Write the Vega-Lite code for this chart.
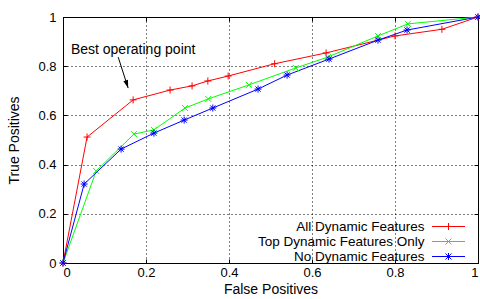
{
  "$schema": "https://vega.github.io/schema/vega-lite/v6.json",
  "width": 415,
  "height": 246,
  "autosize": {"type": "none"},
  "padding": {"left": 63, "top": 17, "right": 2, "bottom": 36},
  "config": {
    "font": "Liberation Sans",
    "view": {"stroke": "black", "strokeWidth": 1},
    "axis": {
      "labelFontSize": 13, "labelColor": "black", "titleFontSize": 14, "titleFontWeight": "normal", "titleColor": "black",
      "domainColor": "black", "domainWidth": 1,
      "tickColor": "black", "tickSize": -4,
      "gridColor": "black", "gridDash": [1, 3], "gridOpacity": 1, "gridWidth": 1
    }
  },
  "datasets": {
    "roc": [
      {"series": "All Dynamic Features", "fpr": 0, "tpr": 0},
      {"series": "All Dynamic Features", "fpr": 0.058, "tpr": 0.512},
      {"series": "All Dynamic Features", "fpr": 0.169, "tpr": 0.663},
      {"series": "All Dynamic Features", "fpr": 0.258, "tpr": 0.703},
      {"series": "All Dynamic Features", "fpr": 0.311, "tpr": 0.72},
      {"series": "All Dynamic Features", "fpr": 0.349, "tpr": 0.74},
      {"series": "All Dynamic Features", "fpr": 0.398, "tpr": 0.76},
      {"series": "All Dynamic Features", "fpr": 0.51, "tpr": 0.81},
      {"series": "All Dynamic Features", "fpr": 0.634, "tpr": 0.854},
      {"series": "All Dynamic Features", "fpr": 0.8, "tpr": 0.923},
      {"series": "All Dynamic Features", "fpr": 0.913, "tpr": 0.95},
      {"series": "All Dynamic Features", "fpr": 1, "tpr": 1},
      {"series": "Top Dynamic Features Only", "fpr": 0, "tpr": 0},
      {"series": "Top Dynamic Features Only", "fpr": 0.08, "tpr": 0.374},
      {"series": "Top Dynamic Features Only", "fpr": 0.171, "tpr": 0.524},
      {"series": "Top Dynamic Features Only", "fpr": 0.219, "tpr": 0.541},
      {"series": "Top Dynamic Features Only", "fpr": 0.294, "tpr": 0.63},
      {"series": "Top Dynamic Features Only", "fpr": 0.35, "tpr": 0.667},
      {"series": "Top Dynamic Features Only", "fpr": 0.448, "tpr": 0.724},
      {"series": "Top Dynamic Features Only", "fpr": 0.561, "tpr": 0.793},
      {"series": "Top Dynamic Features Only", "fpr": 0.638, "tpr": 0.837},
      {"series": "Top Dynamic Features Only", "fpr": 0.759, "tpr": 0.923},
      {"series": "Top Dynamic Features Only", "fpr": 0.831, "tpr": 0.972},
      {"series": "Top Dynamic Features Only", "fpr": 1, "tpr": 1},
      {"series": "No Dynamic Features", "fpr": 0, "tpr": 0},
      {"series": "No Dynamic Features", "fpr": 0.051, "tpr": 0.321},
      {"series": "No Dynamic Features", "fpr": 0.14, "tpr": 0.463},
      {"series": "No Dynamic Features", "fpr": 0.219, "tpr": 0.528},
      {"series": "No Dynamic Features", "fpr": 0.292, "tpr": 0.581},
      {"series": "No Dynamic Features", "fpr": 0.361, "tpr": 0.63},
      {"series": "No Dynamic Features", "fpr": 0.47, "tpr": 0.707},
      {"series": "No Dynamic Features", "fpr": 0.54, "tpr": 0.764},
      {"series": "No Dynamic Features", "fpr": 0.641, "tpr": 0.829},
      {"series": "No Dynamic Features", "fpr": 0.759, "tpr": 0.906},
      {"series": "No Dynamic Features", "fpr": 0.829, "tpr": 0.947},
      {"series": "No Dynamic Features", "fpr": 1, "tpr": 1}
    ],
    "note": [
      {"label": "Best operating point", "tx": 0.019, "ty": 0.85, "ax": 0.133, "ay": 0.837, "bx": 0.157, "by": 0.711}
    ]
  },
  "layer": [
    {
      "data": {"name": "roc"},
      "mark": {"type": "line", "strokeWidth": 1, "clip": true},
      "encoding": {
        "x": {"field": "fpr", "type": "quantitative", "title": "False Positives",
          "scale": {"domain": [0, 1], "nice": false},
          "axis": {"orient": "bottom", "values": [0, 0.2, 0.4, 0.6, 0.8, 1], "format": "~g", "labelPadding": 7, "titlePadding": 3}},
        "y": {"field": "tpr", "type": "quantitative", "title": "True Positives",
          "scale": {"domain": [0, 1], "nice": false},
          "axis": {"orient": "left", "values": [0, 0.2, 0.4, 0.6, 0.8, 1], "format": "~g", "labelPadding": 11, "titlePadding": 16}},
        "color": {"field": "series", "type": "nominal",
          "scale": {"domain": ["All Dynamic Features", "Top Dynamic Features Only", "No Dynamic Features"],
                    "range": ["#ff0000", "#00ff00", "#0000ff"]},
          "legend": {
            "title": null, "orient": "none", "legendX": 378.75, "legendY": 202.75, "padding": 0,
            "symbolSize": 100, "symbolStrokeWidth": 1, "rowPadding": 0,
            "labelAlign": "right", "labelOffset": -30.75, "labelFontSize": 13.5, "labelColor": "black",
            "labelLimit": 300,
            "encode": {"symbols": {"update": {
              "shape": {"signal": "datum.value === 'All Dynamic Features' ? 'M-3.3,0H3.3M0,-0.7V0.7' : (datum.value === 'Top Dynamic Features Only' ? 'M-3.3,0H3.3M-0.6,-0.6L0.6,0.6M-0.6,0.6L0.6,-0.6' : 'M-3.3,0H3.3M0,-0.7V0.7M-0.6,-0.6L0.6,0.6M-0.6,0.6L0.6,-0.6')"},
              "fill": {"value": "transparent"}
            }}}
          }}
      }
    },
    {
      "data": {"name": "roc"},
      "transform": [{"filter": "datum.series === 'All Dynamic Features'"}],
      "mark": {"type": "point", "shape": "M-1,0H1M0,-1V1", "filled": false, "size": 49, "strokeWidth": 1, "opacity": 1},
      "encoding": {
        "x": {"field": "fpr", "type": "quantitative", "axis": null},
        "y": {"field": "tpr", "type": "quantitative", "axis": null},
        "color": {"field": "series", "type": "nominal", "legend": null}
      }
    },
    {
      "data": {"name": "roc"},
      "transform": [{"filter": "datum.series === 'Top Dynamic Features Only'"}],
      "mark": {"type": "point", "shape": "M-0.85,-0.85L0.85,0.85M-0.85,0.85L0.85,-0.85", "filled": false, "size": 49, "strokeWidth": 1, "opacity": 1},
      "encoding": {
        "x": {"field": "fpr", "type": "quantitative", "axis": null},
        "y": {"field": "tpr", "type": "quantitative", "axis": null},
        "color": {"field": "series", "type": "nominal", "legend": null}
      }
    },
    {
      "data": {"name": "roc"},
      "transform": [{"filter": "datum.series === 'No Dynamic Features'"}],
      "mark": {"type": "point", "shape": "M-1,0H1M0,-1V1M-0.75,-0.75L0.75,0.75M-0.75,0.75L0.75,-0.75", "filled": false, "size": 49, "strokeWidth": 1, "opacity": 1},
      "encoding": {
        "x": {"field": "fpr", "type": "quantitative", "axis": null},
        "y": {"field": "tpr", "type": "quantitative", "axis": null},
        "color": {"field": "series", "type": "nominal", "legend": null}
      }
    },
    {
      "data": {"name": "note"},
      "mark": {"type": "text", "align": "left", "baseline": "alphabetic", "fontSize": 14, "color": "black"},
      "encoding": {
        "x": {"field": "tx", "type": "quantitative", "axis": null},
        "y": {"field": "ty", "type": "quantitative", "axis": null},
        "text": {"field": "label"}
      }
    },
    {
      "data": {"name": "note"},
      "mark": {"type": "rule", "color": "black", "strokeWidth": 1},
      "encoding": {
        "x": {"field": "ax", "type": "quantitative",
          "axis": {"orient": "top", "labels": false, "title": null, "grid": false, "domain": false, "values": [0, 0.2, 0.4, 0.6, 0.8, 1]}},
        "y": {"field": "ay", "type": "quantitative",
          "axis": {"orient": "right", "labels": false, "title": null, "grid": false, "domain": false, "values": [0, 0.2, 0.4, 0.6, 0.8, 1]}},
        "x2": {"field": "bx"},
        "y2": {"field": "by"}
      }
    },
    {
      "data": {"name": "note"},
      "mark": {"type": "point", "shape": "M-0.6,-2L0,0L0.6,-2Z", "size": 64, "filled": true, "color": "black", "angle": -18, "opacity": 1},
      "encoding": {
        "x": {"field": "bx", "type": "quantitative", "axis": null},
        "y": {"field": "by", "type": "quantitative", "axis": null}
      }
    }
  ]
}
